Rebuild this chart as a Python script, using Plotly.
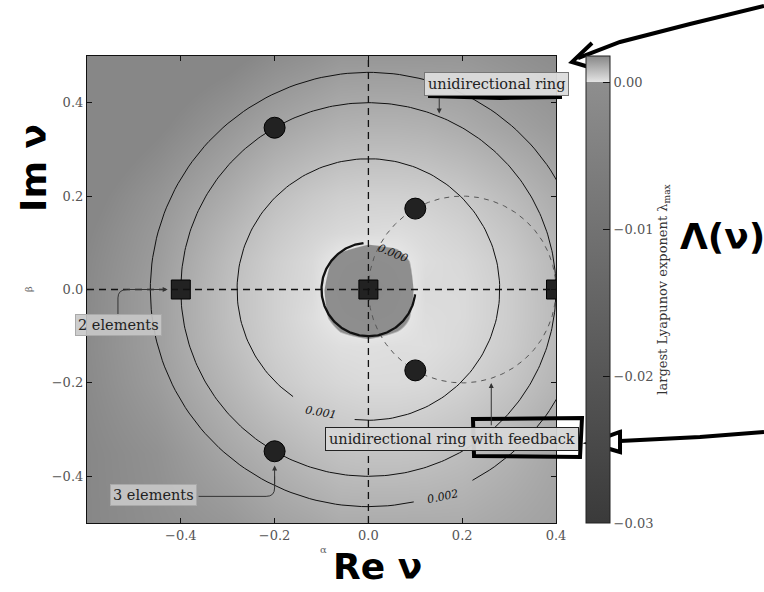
import numpy as np
import plotly.graph_objects as go

# ---------------- data ----------------
grid_alpha = [-0.6, -0.45, -0.3, -0.2, -0.12, -0.06, 0.0, 0.06, 0.12, 0.2, 0.3, 0.4]
grid_beta = [-0.5, -0.35, -0.2, -0.12, -0.06, 0.0, 0.06, 0.12, 0.2, 0.35, 0.5]
# largest Lyapunov exponent, in units of 1e-4 (rows follow grid_beta)
lyap_e4 = [
    [18.0, 16.5, 15.0, 13.0, 12.0, 11.0, 11.0, 11.0, 11.0, 11.0, 12.0, 13.0],
    [18.0, 16.0, 12.0, 9.6, 7.8, 6.8, 6.4, 6.4, 6.7, 7.7, 9.6, 12.0],
    [17.5, 14.0, 9.0, 5.5, 3.6, 2.6, 2.0, 2.0, 2.4, 3.6, 6.1, 9.2],
    [17.3, 13.5, 7.8, 4.3, 2.3, 1.2, 1.0, 1.3, 1.2, 2.4, 4.9, 8.4],
    [17.5, 13.5, 7.4, 4.0, 1.5, -1.0, -2.5, -1.0, 1.5, 2.0, 4.6, 8.2],
    [17.6, 13.5, 7.4, 4.0, 2.0, -2.5, -10.0, -2.5, 2.0, 2.0, 4.6, 8.3],
    [17.8, 14.0, 7.9, 4.4, 2.2, -1.0, -2.5, -1.0, 1.5, 2.5, 5.0, 8.6],
    [18.2, 14.5, 9.0, 5.5, 3.5, 2.4, 1.8, 1.5, 2.3, 3.6, 6.1, 9.6],
    [19.0, 15.5, 11.0, 7.4, 5.5, 4.4, 4.0, 4.0, 4.3, 5.5, 8.0, 11.0],
    [21.0, 18.5, 15.0, 12.5, 11.0, 10.0, 9.7, 9.7, 10.0, 11.0, 12.8, 14.5],
    [22.0, 20.5, 19.0, 17.0, 16.0, 15.0, 15.0, 15.0, 15.0, 15.0, 16.0, 17.0],
]

# eigenvalue markers
square_alpha = [-0.4, 0.0, 0.4]
square_beta = [0.0, 0.0, 0.0]
dot_alpha = [-0.2, -0.2, 0.1, 0.1]
dot_beta = [0.3464, -0.3464, 0.1732, -0.1732]

# unidirectional ring (circle) and ring with feedback (dashed circle)
ring_center = (0.0, 0.0)
ring_radius = 0.4
feedback_center = (0.2, 0.0)
feedback_radius = 0.2

# contour levels: label, radius, arc start / end angle (deg), label position, label angle
contour_labels = ["0.000", "0.001", "0.002"]
contour_radius = [0.1, 0.28, 0.465]
contour_start_deg = [96, -96, -61.5]
contour_end_deg = [354, 235, 282]
contour_label_alpha = [0.053, -0.102, 0.160]
contour_label_beta = [0.077, -0.264, -0.443]
contour_label_angle = [22, 10, -12]
contour_width = [2.3, 1.0, 1.0]

cbar_ticks = [0.0, -0.01, -0.02, -0.03]
cbar_ticktext = ["0.00", "−0.01", "−0.02", "−0.03"]
axis_ticks = [-0.4, -0.2, 0.0, 0.2, 0.4]
axis_ticktext = ["−0.4", "−0.2", "0.0", "0.2", "0.4"]

# ---------------- layout helpers ----------------
W, H = 764, 592
L, R, T, B = 87, 208, 56, 69
PW, PH = W - L - R, H - T - B


def px(x):
    return (x - L) / PW


def py(y):
    return (H - B - y) / PH


SERIF = "DejaVu Serif"
zmin, zmax = -0.03, 0.0018
f0 = -zmin / (zmax - zmin)
colorscale = [[0.0, "#3a3a3a"], [f0, "#8e8e8e"], [f0 + 0.0005, "#e4e4e4"], [1.0, "#878787"]]

fig = go.Figure()

fig.add_trace(go.Heatmap(
    x=grid_alpha, y=grid_beta, z=(np.array(lyap_e4) * 1e-4).tolist(),
    zsmooth="best", colorscale=colorscale, zmin=zmin, zmax=zmax,
    colorbar=dict(
        x=px(586), xanchor="left", xpad=0, y=0.5, yanchor="middle", len=1, ypad=0,
        thickness=24, outlinewidth=1, outlinecolor="#222",
        tickvals=cbar_ticks, ticktext=cbar_ticktext, ticks="inside", ticklen=7,
        tickcolor="#111", tickfont=dict(family=SERIF, size=13, color="#555"),
        title=dict(text="largest Lyapunov exponent λ<sub>max</sub>", side="right",
                   font=dict(family=SERIF, size=13, color="#333")),
    ),
    hoverinfo="skip", showscale=True,
))

# full ring circle
th = np.linspace(0, 2 * np.pi, 361)
fig.add_trace(go.Scatter(x=ring_center[0] + ring_radius * np.cos(th),
                         y=ring_center[1] + ring_radius * np.sin(th),
                         mode="lines", line=dict(color="#111", width=1.0),
                         showlegend=False, hoverinfo="skip"))
# feedback dashed circle
fig.add_trace(go.Scatter(x=feedback_center[0] + feedback_radius * np.cos(th),
                         y=feedback_center[1] + feedback_radius * np.sin(th),
                         mode="lines", line=dict(color="#555", width=1.0, dash="5px,5px"),
                         showlegend=False, hoverinfo="skip"))
# contour arcs
for r, a0, a1, w in zip(contour_radius, contour_start_deg, contour_end_deg, contour_width):
    t = np.radians(np.linspace(a0, a1, 200))
    fig.add_trace(go.Scatter(x=r * np.cos(t), y=r * np.sin(t), mode="lines",
                             line=dict(color="#111", width=w),
                             showlegend=False, hoverinfo="skip"))

# dashed axes cross
fig.add_shape(type="line", xref="x", yref="paper", x0=0, x1=0, y0=0, y1=1,
              line=dict(color="#111", width=1.3, dash="7px,5px"))
fig.add_shape(type="line", xref="paper", yref="y", x0=0, x1=1, y0=0, y1=0,
              line=dict(color="#111", width=1.3, dash="7px,5px"))

# markers
fig.add_trace(go.Scatter(x=square_alpha, y=square_beta, mode="markers",
                         marker=dict(symbol="square", size=19, color="#222",
                                     line=dict(color="#000", width=1)),
                         showlegend=False, hoverinfo="skip"))
fig.add_trace(go.Scatter(x=dot_alpha, y=dot_beta, mode="markers",
                         marker=dict(symbol="circle", size=21, color="#222",
                                     line=dict(color="#000", width=1)),
                         showlegend=False, hoverinfo="skip"))

ann = []
# contour labels
for lab, a, b, ang in zip(contour_labels, contour_label_alpha, contour_label_beta, contour_label_angle):
    ann.append(dict(x=a, y=b, xref="x", yref="y", text="<i>" + lab + "</i>", showarrow=False,
                    textangle=ang, font=dict(family=SERIF, size=11, color="#111")))

# text boxes
box_font = dict(family=SERIF, size=14.5, color="#222")
ann.append(dict(x=0.274, y=0.440, xref="x", yref="y", text="unidirectional ring", showarrow=False,
                font=box_font, bgcolor="rgba(220,220,220,0.95)", bordercolor="#777",
                borderwidth=1, borderpad=3))
ann.append(dict(x=0.178, y=-0.320, xref="x", yref="y", text="unidirectional ring with feedback",
                showarrow=False, font=box_font, bgcolor="rgba(214,214,214,0.95)",
                bordercolor="#222", borderwidth=1, borderpad=3))
ann.append(dict(x=-0.533, y=-0.077, xref="x", yref="y", text="2 elements", showarrow=False,
                font=box_font, bgcolor="rgba(200,200,200,0.9)", bordercolor="#aaa",
                borderwidth=1, borderpad=2))
ann.append(dict(x=-0.459, y=-0.441, xref="x", yref="y", text="3 elements", showarrow=False,
                font=box_font, bgcolor="rgba(200,200,200,0.9)", bordercolor="#aaa",
                borderwidth=1, borderpad=2))

# arrows (heads)
arrow_kw = dict(xref="x", yref="y", axref="x", ayref="y", text="", showarrow=True,
                arrowhead=2, arrowsize=1, arrowwidth=1, arrowcolor="#333")
ann.append(dict(x=0.151, y=0.377, ax=0.151, ay=0.413, **arrow_kw))
ann.append(dict(x=0.262, y=-0.200, ax=0.262, ay=-0.294, **arrow_kw))
ann.append(dict(x=-0.428, y=0.0, ax=-0.50, ay=0.0, **arrow_kw))
ann.append(dict(x=-0.2, y=-0.377, ax=-0.2, ay=-0.42, **arrow_kw))
# bent shafts
fig.add_shape(type="path", xref="x", yref="y",
              path="M -0.534,-0.057 L -0.534,-0.018 Q -0.534,0 -0.514,0 L -0.45,0",
              line=dict(color="#333", width=1))
fig.add_shape(type="path", xref="x", yref="y",
              path="M -0.362,-0.443 L -0.218,-0.443 Q -0.2,-0.443 -0.2,-0.425 L -0.2,-0.40",
              line=dict(color="#333", width=1))

paper_kw = dict(xref="paper", yref="paper", showarrow=False, xanchor="center", yanchor="middle")
# small axis labels
ann.append(dict(x=px(323), y=py(549), text="α",
                font=dict(family=SERIF, size=10, color="#666"), **paper_kw))
ann.append(dict(x=px(28), y=py(289), text="β", textangle=-90,
                font=dict(family=SERIF, size=10, color="#666"), **paper_kw))

# hand-written annotations
hand_font = dict(family="DejaVu Sans", size=36, color="#000")
ann.append(dict(x=px(33), y=py(168), text="<b>Im ν</b>", textangle=-90, font=hand_font, **paper_kw))
ann.append(dict(x=px(377), y=py(566), text="<b>Re ν</b>", font=hand_font, **paper_kw))
ann.append(dict(x=px(722), y=py(236), text="<b>Λ(ν)</b>",
                font=dict(family="DejaVu Sans", size=36, color="#000"), **paper_kw))


def ppath(points, close=False):
    s = "M " + " L ".join(f"{px(a):.4f},{py(b):.4f}" for a, b in points)
    return s + (" Z" if close else "")


hand_line = dict(color="#000", width=4)
hand_paths = [
    [(764, 6), (690, 24), (620, 42), (578, 58)],
    [(592, 43), (572, 62), (589, 67)],
    [(764, 432), (700, 437), (620, 441), (596, 443)],
    [(473, 419), (582, 418), (580, 457), (474, 456)],
    [(428, 96), (500, 98), (562, 97)],
]
for i, pts in enumerate(hand_paths):
    fig.add_shape(type="path", xref="paper", yref="paper", path=ppath(pts, close=(i == 3)),
                  line=hand_line)
fig.add_shape(type="path", xref="paper", yref="paper",
              path=ppath([(620, 432), (589, 443), (620, 452)], close=True),
              line=hand_line, fillcolor="white")

axis_common = dict(showgrid=False, zeroline=False, showline=True, linecolor="#111", linewidth=1.2,
                   mirror="ticks", ticks="inside", ticklen=5, tickcolor="#111",
                   tickfont=dict(family=SERIF, size=13, color="#555"))
fig.update_layout(
    width=W, height=H, margin=dict(l=L, r=R, t=T, b=B),
    paper_bgcolor="white", plot_bgcolor="white",
    xaxis=dict(range=[-0.6, 0.4], tickvals=axis_ticks, ticktext=axis_ticktext, **axis_common),
    yaxis=dict(range=[-0.5, 0.5], tickvals=axis_ticks, ticktext=axis_ticktext, **axis_common),
    annotations=ann, showlegend=False,
)

fig.write_html("out.html")
